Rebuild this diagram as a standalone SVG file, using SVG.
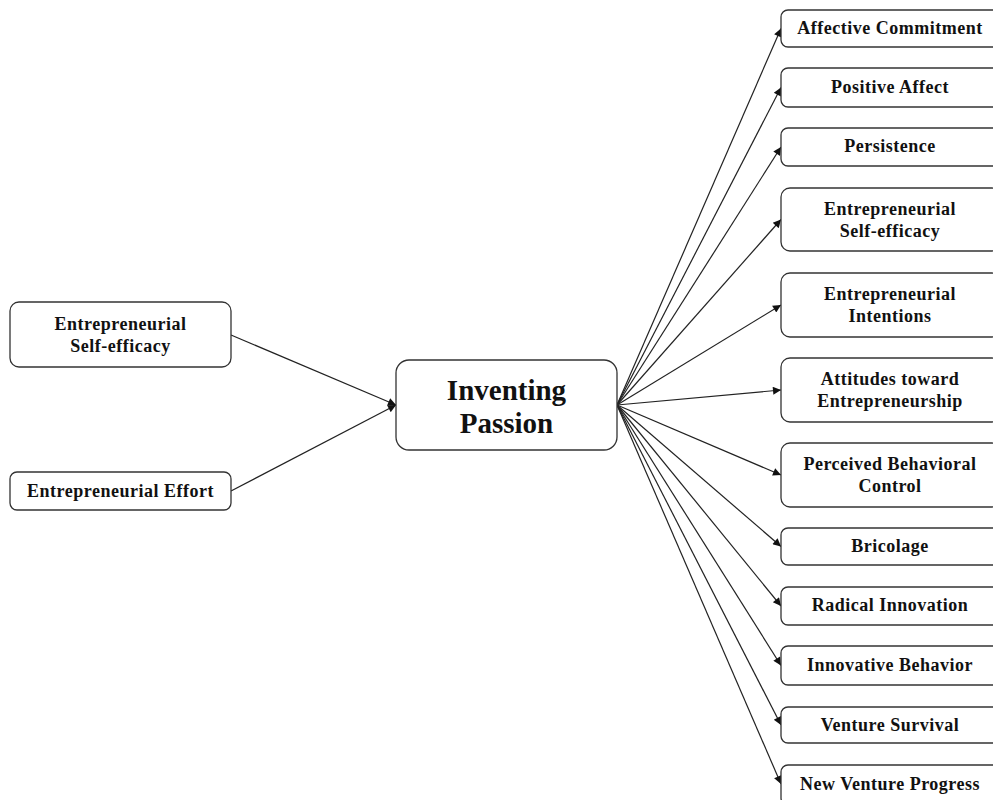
<svg xmlns="http://www.w3.org/2000/svg" width="993" height="800" viewBox="0 0 993 800">
<style>
.box{fill:#fff;stroke:#333;stroke-width:1.3}
.t{font-family:"Liberation Serif","Times New Roman",serif;font-weight:bold;font-size:18px;letter-spacing:0.5px;fill:#111;text-anchor:middle}
.big{font-family:"Liberation Serif","Times New Roman",serif;font-weight:bold;font-size:29px;fill:#111;text-anchor:middle}
.c{stroke:#222;stroke-width:1.2;fill:none;marker-end:url(#ah)}
</style>
<defs>
<marker id="ah" viewBox="0 0 10 10" refX="10" refY="5" markerWidth="11" markerHeight="8" markerUnits="userSpaceOnUse" orient="auto">
<path d="M0,0 L10,5 L0,10 z" fill="#111"/>
</marker>
</defs>
<g id="connectors">
<path class="c" d="M231,335 L396,405"/>
<path class="c" d="M231,491 L396,405"/>
<path class="c" d="M617,405 L781,28.5"/>
<path class="c" d="M617,405 L781,87.5"/>
<path class="c" d="M617,405 L781,147"/>
<path class="c" d="M617,405 L781,219.5"/>
<path class="c" d="M617,405 L781,305"/>
<path class="c" d="M617,405 L781,390"/>
<path class="c" d="M617,405 L781,475"/>
<path class="c" d="M617,405 L781,546.5"/>
<path class="c" d="M617,405 L781,606"/>
<path class="c" d="M617,405 L781,665.5"/>
<path class="c" d="M617,405 L781,725"/>
<path class="c" d="M617,405 L781,784"/>
</g>
<g id="left-self-efficacy"><rect class="box" x="10" y="302" width="221" height="65" rx="9"/><text class="t" x="120.5" y="330">Entrepreneurial</text><text class="t" x="120.5" y="352">Self-efficacy</text></g>
<g id="left-effort"><rect class="box" x="10" y="472" width="221" height="38" rx="7"/><text class="t" x="120.5" y="497">Entrepreneurial Effort</text></g>
<g id="inventing-passion"><rect class="box" x="396" y="360" width="221" height="90" rx="13"/><text class="big" x="506.5" y="400">Inventing</text><text class="big" x="506.5" y="433">Passion</text></g>
<g id="affective-commitment"><rect class="box" x="781" y="10" width="220" height="37" rx="7"/><text class="t" x="890" y="34">Affective Commitment</text></g>
<g id="positive-affect"><rect class="box" x="781" y="68" width="220" height="39" rx="7"/><text class="t" x="890" y="93">Positive Affect</text></g>
<g id="persistence"><rect class="box" x="781" y="128" width="220" height="38" rx="7"/><text class="t" x="890" y="152">Persistence</text></g>
<g id="right-self-efficacy"><rect class="box" x="781" y="188" width="220" height="63" rx="9"/><text class="t" x="890" y="215">Entrepreneurial</text><text class="t" x="890" y="237">Self-efficacy</text></g>
<g id="intentions"><rect class="box" x="781" y="273" width="220" height="64" rx="9"/><text class="t" x="890" y="300">Entrepreneurial</text><text class="t" x="890" y="322">Intentions</text></g>
<g id="attitudes"><rect class="box" x="781" y="358" width="220" height="64" rx="9"/><text class="t" x="890" y="385">Attitudes toward</text><text class="t" x="890" y="407">Entrepreneurship</text></g>
<g id="pbc"><rect class="box" x="781" y="443" width="220" height="64" rx="9"/><text class="t" x="890" y="470">Perceived Behavioral</text><text class="t" x="890" y="492">Control</text></g>
<g id="bricolage"><rect class="box" x="781" y="528" width="220" height="37" rx="7"/><text class="t" x="890" y="552">Bricolage</text></g>
<g id="radical-innovation"><rect class="box" x="781" y="587" width="220" height="38" rx="7"/><text class="t" x="890" y="611">Radical Innovation</text></g>
<g id="innovative-behavior"><rect class="box" x="781" y="646" width="220" height="39" rx="7"/><text class="t" x="890" y="671">Innovative Behavior</text></g>
<g id="venture-survival"><rect class="box" x="781" y="707" width="220" height="36" rx="7"/><text class="t" x="890" y="731">Venture Survival</text></g>
<g id="new-venture-progress"><rect class="box" x="781" y="765" width="220" height="40" rx="7"/><text class="t" x="890" y="790">New Venture Progress</text></g>
</svg>
